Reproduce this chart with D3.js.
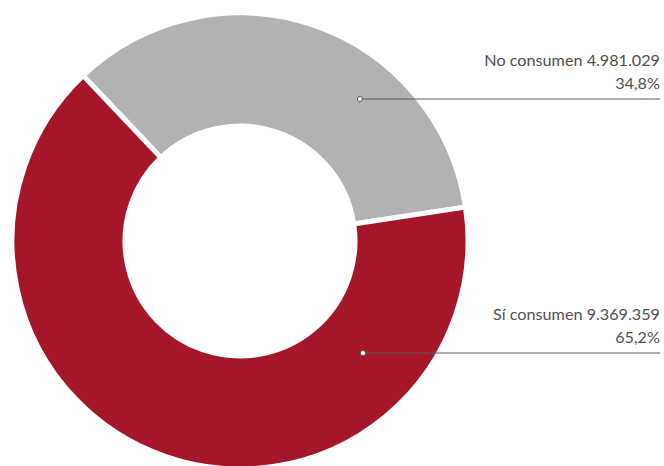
<!DOCTYPE html>
<html>
<head>
<meta charset="utf-8">
<script src="https://cdn.jsdelivr.net/npm/d3@7"></script>
<style>
  body { margin: 0; background: #fff; }
  text { font-family: Lato, "Open Sans", sans-serif; fill: #505052; }
</style>
</head>
<body>
<div id="chart"></div>
<script>
// Data
var categories = ["No consumen", "Sí consumen"];
var values = [4981029, 9369359];
var valueLabels = ["4.981.029", "9.369.359"];
var percentLabels = ["34,8%", "65,2%"];
var colors = ["#b1b2b4", "#a51728"];

// Layout
var Chart_Width = 664;
var Chart_Height = 466;
var center = { x: 240, y: 241 };
var outerR = 228;
var innerR = 115;
var startDeg = -43.5;

// where each callout sits (dot x, line y), right edge of text
var callouts = [
  { dotX: 360, lineY: 99 },
  { dotX: 363, lineY: 353 }
];
var textRight = 660;

var svg = d3.select("#chart")
  .append("svg")
  .attr("width", Chart_Width)
  .attr("height", Chart_Height);

var pieData = categories.map(function(c, i) {
  return { name: c, value: values[i], color: colors[i] };
});

var pie = d3.pie()
  .sort(null)
  .value(d => d.value)
  .startAngle(startDeg * Math.PI / 180)
  .endAngle(startDeg * Math.PI / 180 + 2 * Math.PI);

var arc = d3.arc()
  .innerRadius(innerR)
  .outerRadius(outerR);

var donut = svg.append("g")
  .attr("transform", `translate(${center.x}, ${center.y})`);

donut.selectAll("path")
  .data(pie(pieData))
  .enter()
  .append("path")
  .attr("d", arc)
  .attr("fill", d => d.data.color)
  .attr("stroke", "#fff")
  .attr("stroke-width", 5);

// callouts
var labels = svg.append("g");

callouts.forEach(function(c, i) {
  labels.append("line")
    .attr("x1", c.dotX)
    .attr("x2", textRight)
    .attr("y1", c.lineY)
    .attr("y2", c.lineY)
    .attr("stroke", "#58585a")
    .attr("stroke-width", 1);

  labels.append("circle")
    .attr("cx", c.dotX)
    .attr("cy", c.lineY)
    .attr("r", 2.6)
    .attr("fill", "#fff")
    .attr("stroke", "#58585a")
    .attr("stroke-width", 1);

  labels.append("text")
    .attr("x", textRight)
    .attr("y", c.lineY - 33)
    .attr("text-anchor", "end")
    .attr("font-size", "16.2px")
    .text(categories[i] + " " + valueLabels[i]);

  labels.append("text")
    .attr("x", textRight)
    .attr("y", c.lineY - 10)
    .attr("text-anchor", "end")
    .attr("font-size", "16.2px")
    .text(percentLabels[i]);
});
</script>
</body>
</html>
